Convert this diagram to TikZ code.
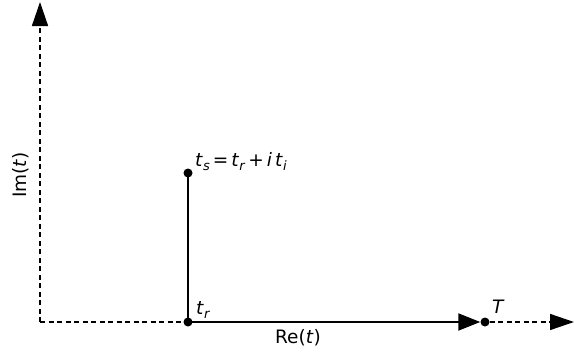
\documentclass[tikz,border=0pt]{standalone}
\usepackage{fontspec}
\setmainfont{DejaVu Sans}
\usetikzlibrary{arrows.meta}
\newcommand{\vi}[1]{\textit{#1}}
\newcommand{\sbs}[1]{\raisebox{-0.25em}{\fontsize{13}{15}\selectfont\textit{#1}}}
\begin{document}
\begin{tikzpicture}[x=1pt,y=-1pt,
  axisline/.style={line width=1.5pt,dash pattern=on 5pt off 3.5pt},
  axis/.style={axisline,-{Triangle[length=24pt,width=16pt]}},
  solidline/.style={line width=2pt},
  dot/.style={circle,fill=black,inner sep=0pt,minimum size=9pt},
  lbl/.style={font=\fontsize{18.5}{22}\selectfont,inner sep=1pt}]
\useasboundingbox (0,0) rectangle (574,356);
\coordinate (O) at (40,322);
\coordinate (ytip) at (40,2);
\coordinate (xtip) at (574,322);
\node[dot] (tr) at (188,322) {};
\node[dot] (ts) at (188,173) {};
\node[dot] (T) at (485,322) {};
\draw[axis] (O) -- (ytip);
\draw[axisline] (O) -- (tr);
\draw[axis] (T) -- (xtip);
\draw[solidline] (tr.center) -- (ts.center);
\draw[solidline,-{Triangle[length=22pt,width=17pt]}] (tr.center) -- (T.west);
\node[lbl,anchor=base west] (lts) at (194,166) {\vi{t}\sbs{s}\,=\,\vi{t}\sbs{r}\,+\,\vi{i}\,\vi{t}\sbs{i}};
\node[lbl,anchor=base west] (ltr) at (195,314) {\vi{t}\sbs{r}};
\node[lbl,anchor=base west] (lT) at (491,313) {\vi{T}};
\node[lbl,anchor=base] (lre) at (298,343) {Re(\vi{t})};
\node[lbl,anchor=base,rotate=90] (lim) at (27,175) {Im(\vi{t})};
\end{tikzpicture}
\end{document}
